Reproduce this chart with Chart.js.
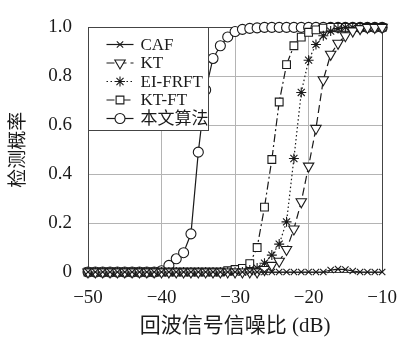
<!DOCTYPE html>
<html>
<head>
<meta charset="utf-8">
<script src="https://cdn.jsdelivr.net/npm/chart.js@4.4.0/dist/chart.umd.min.js"></script>
<style>
html, body { margin:0; padding:0; background:#fff; }
</style>
</head>
<body>
<canvas id="myChart" width="412" height="342"></canvas>
<script>
// SNR (dB), 1 dB steps
var snr = [-50,-49,-48,-47,-46,-45,-44,-43,-42,-41,
           -40,-39,-38,-37,-36,-35,-34,-33,-32,-31,
           -30,-29,-28,-27,-26,-25,-24,-23,-22,-21,
           -20,-19,-18,-17,-16,-15,-14,-13,-12,-11,-10];

var caf = [0,0,0,0,0,0,0,0,0,0,
           0,0,0,0,0,0,0,0,0,0,
           0,0,0,0,0,0,0,0,0,0,
           0,0,0,0.008,0.012,0.01,0.004,0,0,0,0];
var kt = [0,0,0,0,0,0,0,0,0,0,
          0,0,0,0,0,0,0,0,0,0,
          0,0,0,0,0.01,0.027,0.044,0.092,0.176,0.287,
          0.433,0.587,0.786,0.89,0.935,0.966,0.985,0.995,1,1,1];
var eifrft = [0,0,0,0,0,0,0,0,0,0,
              0,0,0,0,0,0,0,0,0,0,
              0,0,0.008,0.016,0.036,0.069,0.114,0.205,0.464,0.734,
              0.866,0.93,0.966,0.985,0.995,1,1,1,1,1,1];
var ktft = [0,0,0,0,0,0,0,0,0,0,
            0,0,0,0,0,0,0,0,0,0.005,
            0.01,0.015,0.034,0.10,0.265,0.46,0.695,0.848,0.925,0.96,
            0.98,0.99,0.997,1,1,1,1,1,1,1,1];
var proposed = [0,0,0,0,0,0,0,0,0,0,
                0.005,0.027,0.054,0.079,0.156,0.49,0.744,0.873,0.925,0.961,
                0.983,0.992,0.996,0.998,1,1,1,1,1,1,
                1,1,1,1,1,1,1,1,1,1,1];

var seriesNames = ["CAF", "KT", "EI-FRFT", "KT-FT", "本文算法"];
var yTicks = [0, 0.2, 0.4, 0.6, 0.8, 1.0];

var serif = "'Liberation Serif', 'Noto Sans CJK SC', serif";
var ink = "#1a1a1a";

function pts(arr)
{
    return arr.map(function(v, i) { return {x: snr[i], y: v}; });
}

function ds(label, arr, style, rot, radius, dash)
{
    return {
        label: label,
        data: pts(arr),
        borderColor: ink,
        backgroundColor: "#fff",
        borderWidth: 1.2,
        borderDash: dash,
        pointStyle: style,
        pointRotation: rot,
        pointRadius: radius,
        pointBorderColor: ink,
        pointBackgroundColor: "#fff",
        pointBorderWidth: 1.1,
        tension: 0,
        clip: false
    };
}

var datasets = [
    ds(seriesNames[0], caf, "crossRot", 0, 4.5, []),
    ds(seriesNames[1], kt, "triangle", 180, 6, [8, 4]),
    ds(seriesNames[2], eifrft, "star", 0, 5, [1.5, 2.5]),
    ds(seriesNames[3], ktft, "rect", 0, 5.5, [8, 3, 2, 3]),
    ds(seriesNames[4], proposed, "circle", 0, 5, [])
];

// box round the plot area
var framePlugin = {
    id: "frame",
    beforeDatasetsDraw: function(chart)
    {
        var a = chart.chartArea, ctx = chart.ctx;
        ctx.save();
        ctx.strokeStyle = "#444";
        ctx.lineWidth = 1;
        ctx.strokeRect(Math.round(a.left) + 0.5, Math.round(a.top) + 0.5,
                       Math.round(a.right - a.left), Math.round(a.bottom - a.top));
        ctx.restore();
    }
};

// matlab-like legend with line + marker samples
var legendPlugin = {
    id: "mlegend",
    afterDatasetsDraw: function(chart)
    {
        var a = chart.chartArea, ctx = chart.ctx;
        var x0 = Math.round(a.left) + 0.5, y0 = Math.round(a.top) + 0.5;
        ctx.save();
        ctx.fillStyle = "#fff";
        ctx.strokeStyle = "#444";
        ctx.lineWidth = 1;
        ctx.fillRect(x0, y0, 120, 103);
        ctx.strokeRect(x0, y0, 120, 103);
        ctx.font = "17px " + serif;
        ctx.textBaseline = "middle";
        chart.data.datasets.forEach(function(d, i)
        {
            var y = y0 + 17 + i * 18.5;
            ctx.strokeStyle = ink;
            ctx.lineWidth = 1.2;
            ctx.setLineDash(d.borderDash);
            ctx.beginPath();
            ctx.moveTo(x0 + 18, y);
            ctx.lineTo(x0 + 45, y);
            ctx.stroke();
            ctx.setLineDash([]);
            ctx.lineWidth = 1.1;
            ctx.fillStyle = "#fff";
            Chart.helpers.drawPoint(ctx, {pointStyle: d.pointStyle, rotation: d.pointRotation,
                                          radius: d.pointRadius, borderWidth: 1.1}, x0 + 31.5, y);
            ctx.fillStyle = ink;
            ctx.fillText(d.label, x0 + 52, y + 1);
        });
        ctx.restore();
    }
};

var canvas = document.getElementById("myChart");
var myChart = new Chart(canvas.getContext("2d"),
{
    type: "line",
    data: { datasets: datasets },
    plugins: [framePlugin, legendPlugin],
    options:
    {
        responsive: false,
        animation: false,
        devicePixelRatio: 1,
        layout: { padding: { left: 0, right: 13, top: 15, bottom: 0 } },
        plugins: { legend: { display: false }, tooltip: { enabled: false } },
        scales:
        {
            x:
            {
                type: "linear",
                min: -50, max: -10,
                afterFit: function(s) { s.height = 70; },
                ticks:
                {
                    stepSize: 10,
                    color: ink,
                    font: { family: serif, size: 19 },
                    padding: 15,
                    maxRotation: 0,
                    callback: function(v) { return v < 0 ? "\u2212" + Math.abs(v) : String(v); }
                },
                grid: { color: "#b4b4b4", drawTicks: false },
                border: { color: "#444" },
                title:
                {
                    display: true,
                    text: "回波信号信噪比 (dB)",
                    color: ink,
                    font: { family: serif, size: 21 },
                    padding: { top: 0, bottom: 3 }
                }
            },
            y:
            {
                min: 0, max: 1,
                afterFit: function(s) { s.width = 88; },
                afterBuildTicks: function(s) { s.ticks = yTicks.map(function(v) { return {value: v}; }); },
                ticks:
                {
                    color: ink,
                    font: { family: serif, size: 19 },
                    padding: 16,
                    callback: function(v) { return v === 0 ? "0" : v.toFixed(1); }
                },
                grid: { color: "#b4b4b4", drawTicks: false },
                border: { color: "#444" },
                title:
                {
                    display: true,
                    text: "检测概率",
                    color: ink,
                    font: { family: serif, size: 19 },
                    padding: { top: 8, bottom: 0 }
                }
            }
        }
    }
});
</script>
</body>
</html>
